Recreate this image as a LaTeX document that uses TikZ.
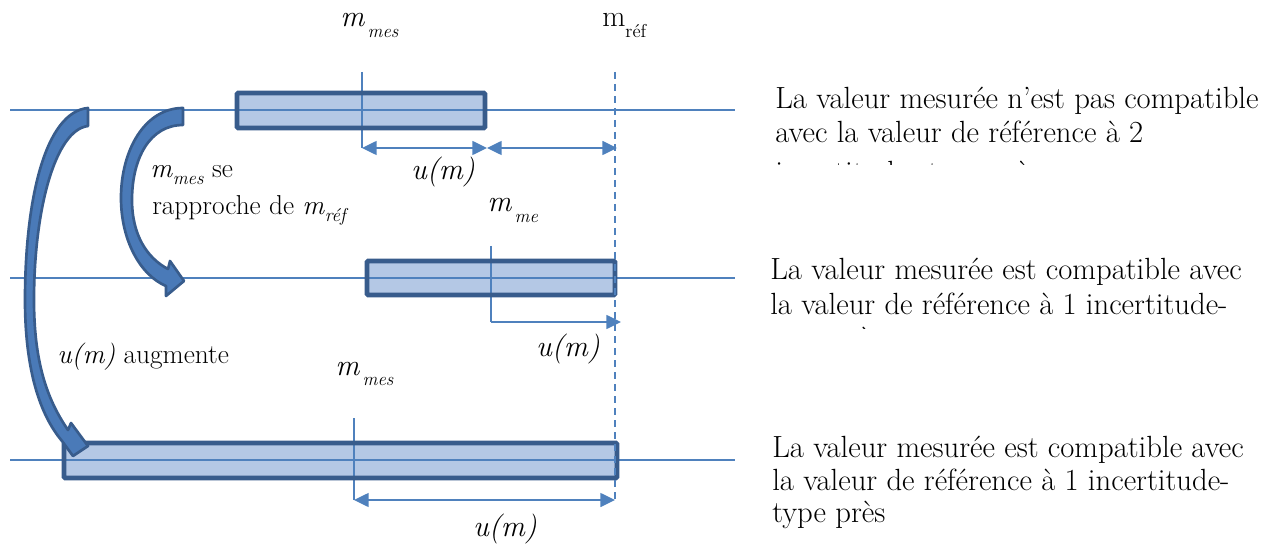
\documentclass[tikz,border=0pt]{standalone}
\usepackage{tikz}
\usetikzlibrary{arrows.meta}

\definecolor{barborder}{HTML}{385C8C}
\definecolor{barfill}{HTML}{B4C8E5}
\definecolor{axisblue}{HTML}{4F81BD}
\definecolor{bendfill}{HTML}{4A7AB8}

\newcommand{\bodysize}{\fontsize{23}{27}\selectfont}
\newcommand{\leftsize}{\fontsize{20.5}{24}\selectfont}
\newcommand{\labelsize}{\fontsize{22.5}{26}\selectfont}
\newcommand{\subsize}{\fontsize{14}{14}\selectfont}
% m with a dropped subscript
\newcommand{\mtop}[1]{\textit{m}\kern2pt\raisebox{-8pt}{\subsize\textit{#1}}}
\newcommand{\minline}[1]{\textit{m}\raisebox{-5pt}{\subsize\textit{#1}}}

\tikzset{
  axis/.style={color=axisblue,line width=1.1pt},
  refline/.style={axis,dash pattern=on 5.5pt off 3.5pt},
  dimarrow/.style={axis,{Triangle[length=11pt,width=10.5pt]}-{Triangle[length=11pt,width=10.5pt]}},
  barinside/.style={fill=barfill},
  baredge/.style={draw=barborder,line width=3.7pt,rounded corners=1pt},
  bentarrow/.style={draw=barborder,fill=bendfill,line width=2pt,line join=round},
  lbl/.style={inner sep=0pt,anchor=base west,font=\labelsize},
  midlbl/.style={inner sep=0pt,anchor=base,font=\labelsize},
  lefttext/.style={inner sep=0pt,anchor=base west,font=\leftsize},
  comment/.style={inner sep=0pt,anchor=base west,font=\bodysize}
}

\begin{document}
\begin{tikzpicture}[x=0.75pt,y=-0.75pt]
    \useasboundingbox (0,0) rectangle (1277,545);
    % axes
    \coordinate (A1) at (10,110); \coordinate (B1) at (735,110);
    \coordinate (A2) at (10,278); \coordinate (B2) at (735,278);
    \coordinate (A3) at (10,460); \coordinate (B3) at (735,460);
    % reference value
    \coordinate (R0) at (615,72); \coordinate (R1) at (615,502);
    % measured values
    \coordinate (M1) at (362,72);  \coordinate (M1') at (362,148);
    \coordinate (M2) at (491,246); \coordinate (M2') at (491,322);
    \coordinate (M3) at (354,418); \coordinate (M3') at (354,500);
    % ends of the u(m) arrows
    \coordinate (U1) at (487,148); \coordinate (U1') at (617,148);
    \coordinate (U2) at (621,322);
    \coordinate (U3) at (615,500);
    % bars
    \fill[barinside] (237,93) rectangle (485,128);
    \fill[barinside] (367,261) rectangle (615,295);
    \fill[barinside] (64,443) rectangle (617,478);
    \draw[axis] (A1) -- (B1);
    \draw[axis] (A2) -- (B2);
    \draw[axis] (A3) -- (B3);
    \draw[axis] (M1) -- (M1');
    \draw[axis] (M2) -- (M2');
    \draw[axis] (M3) -- (M3');
    \draw[baredge] (237,93) rectangle (485,128);
    \draw[baredge] (367,261) rectangle (615,295);
    \draw[baredge] (64,443) rectangle (617,478);
    \draw[refline] (R0) -- (R1);
    \draw[dimarrow] (M1') -- (U1);
    \draw[dimarrow] (U1) -- (U1');
    \draw[axis,-{Triangle[length=11pt,width=10.5pt]}] (M2') -- (U2);
    \draw[dimarrow] (M3') -- (U3);
    % bent arrows
    \draw[bentarrow] (183,108) .. controls (145,108) and (121,150) .. (121,198)
        .. controls (121,240) and (140,275) .. (166,286) -- (166,296) -- (184,281)
        -- (170,261) -- (168,269) .. controls (147,258) and (132,235) .. (132,200)
        .. controls (132,158) and (150,125) .. (183,125) -- cycle;
    \draw[bentarrow] (88,108) .. controls (45,112) and (25,200) .. (25,300)
        .. controls (25,370) and (40,415) .. (62,441) -- (73,456) -- (88,446)
        -- (71,423) -- (68,430) .. controls (46,398) and (34,360) .. (34,300)
        .. controls (34,210) and (55,130) .. (88,126) -- cycle;
    % labels
    \node[lbl] (mmes1) at (340,27) {\mtop{mes}};
    \node[lbl] (mref) at (602,27) {m\raisebox{-8pt}{\subsize réf}};
    \node[lbl] (mme) at (487,212) {\mtop{me}};
    \node[lbl] (mmes3) at (335,375) {\mtop{mes}};
    \node[midlbl] (um1) at (443,180) {\textit{u(m)}};
    \node[midlbl] (um2) at (568,356) {\textit{u(m)}};
    \node[midlbl] (um3) at (505,536) {\textit{u(m)}};
    \node[lefttext] (close1) at (150,178) {\minline{mes} se};
    \node[lefttext] (close2) at (152,215) {rapproche de \minline{réf}};
    \node[lefttext] (grow) at (57,363) {\textit{u(m)} augmente};
    % comments on the right
    \node[comment] (c11) at (775,109) {La valeur mesurée n’est pas compatible};
    \node[comment] (c12) at (775,143) {avec la valeur de référence à 2};
    \begin{scope}
      \clip (760,150) rectangle (1277,165);
      \node[comment] (c13) at (775,183) {incertitudes-type près};
    \end{scope}
    \node[comment] (c21) at (770,280) {La valeur mesurée est compatible avec};
    \node[comment] (c22) at (770,314) {la valeur de référence à 1 incertitude-};
    \begin{scope}
      \clip (760,320) rectangle (1277,328);
      \node[comment] (c23) at (770,348) {type près};
    \end{scope}
    \node[comment] (c31) at (772,457) {La valeur mesurée est compatible avec};
    \node[comment] (c32) at (772,490) {la valeur de référence à 1 incertitude-};
    \node[comment] (c33) at (772,522) {type près};
\end{tikzpicture}
\end{document}
